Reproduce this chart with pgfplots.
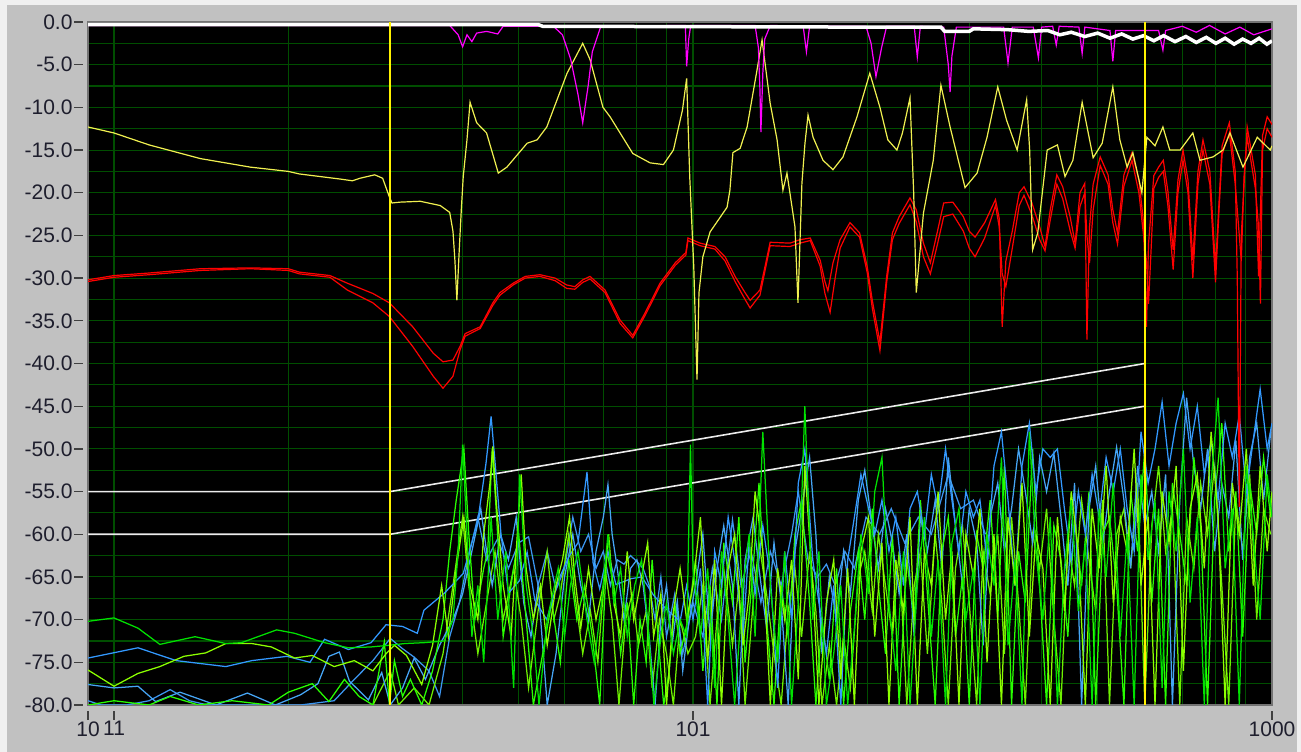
\documentclass[border=0pt]{standalone}
\usepackage{fontspec}
\setmainfont{Liberation Sans}
\usepackage{pgfplots}
\pgfplotsset{compat=1.18}
\definecolor{panel}{RGB}{193,193,193}
\definecolor{lightpanel}{RGB}{240,240,240}
\definecolor{gridgreen}{RGB}{0,78,0}
\definecolor{curveyellow}{RGB}{240,240,80}
\definecolor{magentaL}{RGB}{255,0,255}
\definecolor{redL}{RGB}{255,0,0}
\definecolor{blueA}{RGB}{51,153,255}
\definecolor{blueB}{RGB}{70,165,245}
\definecolor{blueC}{RGB}{60,150,240}
\definecolor{greenA}{RGB}{0,225,0}
\definecolor{greenB}{RGB}{40,255,0}
\definecolor{ygreenA}{RGB}{140,255,0}
\definecolor{ygreenB}{RGB}{110,240,0}
\definecolor{maskwhite}{RGB}{235,235,235}
\definecolor{labelcol}{RGB}{30,30,45}
\begin{document}
\begin{tikzpicture}[x=1pt,y=1pt]
\fill[lightpanel] (0,0) rectangle (1301,752);
\fill[panel] (7,0) rectangle (1297,747);
\begin{axis}[
  at={(88pt,47pt)}, anchor=south west,
  scale only axis, width=1184pt, height=683pt,
  xmode=log, xmin=9.017, xmax=1000, ymin=-80, ymax=0,
  axis background/.style={fill=black},
  axis line style={draw=black!55, line width=1.6pt},
  xtick={9.017,10,100,1000}, xticklabels={10,11,101,1000},
  minor xtick={20,30,40,50,60,70,80,90,200,300,400,500,700,800,900},
  ytick={-80,-75,-70,-65,-60,-55,-50,-45,-40,-35,-30,-25,-20,-15,-10,-5,0},
  yticklabels={-80.0,-75.0,-70.0,-65.0,-60.0,-55.0,-50.0,-45.0,-40.0,-35.0,-30.0,-25.0,-20.0,-15.0,-10.0,-5.0,0.0},
  minor ytick={-77.5,-72.5,-67.5,-62.5,-57.5,-52.5,-47.5,-42.5,-37.5,-32.5,-27.5,-22.5,-17.5,-12.5,-7.5,-2.5},
  grid=both,
  major grid style={draw=gridgreen, line width=1.1pt},
  minor grid style={draw=gridgreen, line width=1.1pt},
  minor tick length=0pt,
  major tick length=9pt,
  tick align=outside, tick pos=left,
  x tick style={draw=black!75, line width=1.3pt, yshift=-6pt},
  y tick style={draw=black!75, line width=1.3pt, xshift=-5pt},
  tick label style={font=\fontsize{21}{24}\selectfont, text=labelcol},
  yticklabel style={xshift=-3pt},
  xticklabel style={yshift=-4pt},
  log ticks with fixed point,
]
% limit masks
\addplot[maskwhite, line width=1.6pt] coordinates {(9.017,-55)(30,-55)(603,-40)};
\addplot[maskwhite, line width=1.6pt] coordinates {(9.017,-60)(30,-60)(603,-45)};

% noise traces
\addplot[blueC, line width=1.25pt] coordinates {(9.017,-79.5)(9.5,-80)(10.5,-80)(11.5,-79.5)(12.5,-78.2)(13.5,-79.5)(14.5,-80)(18,-80)(21,-80)(24,-79.5)(26,-77)(28,-74.8)(30,-72.2)(31.5,-73.4)(33,-74.4)(35,-76)(36.5,-79)(38,-72)(39.5,-68)(41,-62.5)(42.5,-58)(44,-63)(46,-60.5)(48,-64)(50,-61)(52,-60.3)(54,-66)(56,-62)(58,-66.5)(60,-64)(62,-58)(64,-62)(66,-60)(68,-64)(70,-62)(72,-66)(74,-63)(76,-63.5)(78,-62.5)(80,-63.2)(82,-64)(84,-66)(86,-70)(88,-65)(90,-72)(93,-67)(96,-74)(100,-68)(104,-72)(108,-64)(112,-70)(117,-58.3)(121,-66)(126,-62)(131,-68)(136,-62)(142,-66)(148,-60)(152,-55)(158,-63)(164,-65)(170,-63.5)(176,-66)(183,-62)(190,-64)(199,-58)(210,-60)(220,-57)(232,-61)(245,-58)(258,-60)(276,-53)(290,-57)(305,-56)(320,-60)};

\addplot[ygreenB, line width=1.25pt] coordinates {(28,-80)(30,-76)(31,-80)(33,-78)(35,-80)(37,-74)(38.5,-66)(40,-58)(41,-66)(42.5,-74)(44,-68)(45.5,-62)(47,-70)(49,-64)(50.5,-70)(52,-78)(54,-69)(56,-62)(57.5,-70)(59,-67)(61,-60)(62.5,-67)(64.5,-74)(66.5,-69)(68.5,-75)(70.5,-64)(72.5,-70)(74.5,-80)(76.5,-70)(78.5,-67)(80.5,-73)(83,-69)(85,-78)(87.5,-70)(90,-74)(92.5,-80)(95,-70)(98,-74)
(101,-72)(104,-66)(107,-80)(110,-70)(113,-64)(117,-73)(120,-66)(123,-80)(127,-68)(130,-61)(134,-67)(138,-74)(142,-80)(146,-69)(150,-64)(154,-72)(159,-62)(163,-69)(167,-80)(172,-73)(177,-80)(182,-72)(187,-78)(193,-65)(198,-62)(204,-69)(209,-60)(215,-66)(221,-72)(227,-62)(234,-80)(241,-66)(247,-62)(254,-74)(262,-60)(269,-68)(276,-80)(284,-64)(292,-59)(300,-68)(309,-80)(317,-62)(326,-67)(336,-60)(345,-74)(355,-58)(365,-68)(375,-80)(386,-60)(397,-64)(408,-57)(420,-70)(432,-80)(444,-61)(456,-66)(469,-56)(483,-63)(496,-69)(510,-56)(524,-80)(539,-60)(555,-57)(570,-64)(586,-54)(603,-80)(620,-59)(637,-52)(655,-62)(673,-57)(693,-80)(712,-58)(733,-64)(753,-54)(774,-60)(796,-52)(819,-66)(842,-80)(866,-56)(890,-62)(915,-53)(941,-70)(967,-57)(995,-60)};

\addplot[blueB, line width=1.25pt] coordinates {(9.017,-77.6)(10,-78.0)(11,-77.8)(11.8,-79.6)(13,-78.5)(15,-80)(17,-78.6)(19,-80)(21,-78.8)(22.5,-77.5)(23.5,-74.3)(24.5,-73.8)(25.5,-77.2)(27.5,-79.4)(29,-76.2)(30,-80)(31.5,-78)(33,-74.5)(34.5,-77)(36.5,-73)(38.5,-70)(40,-67)(41.5,-62)(43,-57)(44,-62)(45,-66)(46.5,-60)(48,-63)(49.5,-58)(51,-68)(52.5,-72)(54,-66)(56,-80)(58,-74)(60,-65)(62,-60)(64,-66)(66,-70)(68,-62)(70,-58)(71.3,-54.2)(72.5,-60)(74,-64)(76,-70)(78,-64)(80,-63)(82,-66)(84,-72)(86,-80)(88,-70)(90,-66)(92,-73)(94,-68)(96,-76)(98.5,-70)
(101,-66)(104,-60)(107,-72)(110,-64)(113,-59)(117,-66)(120,-80)(123,-63)(127,-58)(130,-64)(134,-71)(138,-61)(142,-68)(146,-80)(150,-62)(154,-57)(159,-51)(163,-60)(167,-74)(172,-65)(177,-70)(182,-62)(187,-67)(193,-56)(198,-52.5)(204,-59)(209,-64)(215,-57)(221,-61)(227,-67)(234,-60)(241,-72)(247,-58)(254,-62)(262,-56)(269,-64)(276,-51)(284,-59)(292,-66)(300,-57)(309,-61)(317,-73)(326,-58)(336,-54)(345,-62)(355,-57)(365,-50)(375,-55)(386,-61)(397,-51)(408,-55)(420,-50.5)(432,-58)(444,-66)(456,-54)(469,-80)(483,-57)(496,-52)(510,-61)(524,-55)(539,-49.8)(555,-56)(570,-64)(586,-52)(603,-59)(620,-55)(637,-62)(655,-53)(673,-80)(693,-56)(712,-44)(733,-52)(753,-57)(774,-50)(796,-62)(819,-54)(842,-58)(866,-49)(890,-63)(915,-51)(941,-47)(967,-56)(995,-48)};

\addplot[greenB, line width=1.25pt] coordinates {(9.017,-80)(10,-79.5)(11.5,-80)(12.5,-79)(14,-80)(16,-79.5)(18.5,-80)(20,-78.5)(22,-77.5)(23.5,-79.6)(25,-77)(26.5,-79)(28,-80)(29.3,-72.6)(29.9,-80)(30.5,-74.8)(31.5,-79)(32.5,-77)(34,-80)(35.5,-76)(37,-70)(38,-62)(39,-56)(40.2,-50)(41,-60)(42,-70)(43.5,-64)(44.2,-62)(45,-50)(45.8,-58)(47,-72)(48.5,-66)(50,-60)(51.5,-70)(53,-80)(55,-74)(57,-68)(59,-75)(61,-63)(63,-70)(65,-66)(67,-72)(69,-80)(71,-62)(73,-66)(75,-74)(77,-68)(79,-80)(81,-70)(83,-75)(85,-63)(87,-72)(89,-80)(91,-76)(93,-68)(95,-74)(98,-70)
(101,-63)(104,-76)(107,-66)(110,-80)(113,-61)(117,-68)(120,-58)(123,-75)(127,-64)(130,-54)(134,-70)(138,-80)(142,-66)(146,-72)(150,-60)(154,-56)(159,-68)(163,-80)(167,-70)(172,-77)(177,-64)(182,-80)(187,-69)(193,-62)(198,-70)(204,-57)(209,-66)(215,-74)(221,-60)(227,-80)(234,-63)(241,-70)(247,-56)(254,-67)(262,-80)(269,-62)(276,-58)(284,-72)(292,-65)(300,-80)(309,-60)(317,-64)(326,-56)(336,-70)(345,-52)(355,-80)(365,-62)(375,-68)(386,-50)(397,-66)(408,-80)(420,-59)(432,-63)(444,-72)(456,-58)(469,-66)(483,-55)(496,-80)(510,-60)(524,-58)(539,-66)(555,-80)(570,-55)(586,-62)(603,-50)(620,-68)(637,-57)(655,-80)(673,-54)(693,-60)(712,-66)(733,-51)(753,-59)(774,-80)(796,-56)(819,-47)(842,-62)(866,-55)(890,-72)(915,-54)(941,-60)(967,-51)(995,-58)};

\addplot[blueA, line width=1.25pt] coordinates {(9.017,-74.5)(11,-73.3)(12.8,-74.8)(15.6,-75.5)(17.3,-74.8)(19.9,-74.3)(21.8,-75)(23.1,-72.3)(25.4,-73.5)(27.8,-72.7)(29.5,-70.6)(31.5,-70.8)(33.4,-71.6)(34.3,-68.9)(37.2,-66.9)(40.1,-64.6)(42.5,-58.4)(43.9,-51.7)(44.8,-46.2)(45.5,-51.5)(46.6,-60)(48.0,-66.9)(50.2,-65.4)(51.7,-62.1)(53.3,-67.7)(55.9,-70)(58.5,-65.4)(61.2,-62.5)(63.3,-61)(65.6,-52.7)(67.2,-63.3)(69.0,-66.4)(71.3,-62)(73.6,-65.9)(78.2,-65.2)(81.6,-65)(85.6,-67.2)(89.7,-68.7)(95,-70.2)(97.5,-66)
(100,-70)(103,-64)(106,-80)(109,-62)(112,-66)(115,-58)(118,-63)(122,-72)(125,-61)(128,-67)(132,-59)(136,-65)(140,-78)(144,-62)(148,-70)(152,-54)(156,-50)(161,-63)(165,-68)(170,-74)(175,-66)(180,-80)(185,-63)(190,-58)(195,-53)(201,-57)(206,-60)(212,-56)(218,-62)(224,-58)(231,-66)(237,-57)(244,-55)(251,-60)(258,-53)(265,-57)(273,-50)(280,-56)(288,-62)(296,-55)(305,-58)(313,-56)(322,-63)(331,-52)(341,-48)(350,-56)(360,-66)(370,-52)(381,-47)(391,-55)(402,-50)(414,-51)(426,-50)(438,-57)(450,-63)(463,-55)(476,-60)(489,-53)(503,-58)(517,-51)(532,-55)(547,-50)(562,-57)(578,-62)(594,-48)(611,-54)(628,-50)(646,-44.5)(664,-52)(683,-47)(703,-43.5)(722,-50)(743,-45)(764,-53)(785,-49)(807,-56)(830,-47)(854,-51)(878,-46)(903,-55)(928,-49)(954,-43)(981,-50)(1000,-47)};

\addplot[ygreenA, line width=1.25pt] coordinates {(9.017,-75.9)(10,-77.8)(11,-76.3)(12,-75.5)(13.2,-74.3)(14.4,-73.9)(15.6,-72.8)(17.3,-72.8)(18.7,-73.2)(20.5,-74.5)(22,-74.2)(24,-75.5)(26,-74.8)(28,-76)(29.5,-74)(30.5,-73)(32,-74.2)(34,-77.6)(35.5,-73)(36.8,-66)(37.8,-72)(39,-64)(40.2,-58)(41.2,-66)(42.5,-70)(43.5,-60)(44.6,-54)(45.1,-49.7)(45.7,-56)(47,-66)(48.5,-72)(49.5,-62)(50.5,-53)(51.5,-64)(53,-70)(54.5,-66)(56,-73)(58,-66)(59.5,-63)(61.2,-58)(62.5,-65)(64,-71)(66,-64)(68,-70)(70,-66)(71.5,-60)(73,-68)(75,-72)(77,-62)(79,-70)(81,-66)(83.5,-61)(85.5,-72)(88,-67)(90,-80)(92.5,-69)(95,-64)(97.5,-70)
(100,-66)(103,-58)(106,-75)(109,-63)(112,-80)(115,-64)(118,-60)(122,-73)(125,-67)(128,-55)(132,-62)(136,-80)(140,-64)(144,-70)(148,-63)(152,-77)(156,-52)(161,-66)(165,-80)(170,-68)(175,-63)(180,-77)(185,-64)(190,-80)(195,-62)(201,-58)(206,-72)(212,-61)(218,-80)(224,-63)(231,-69)(237,-58)(244,-80)(251,-62)(258,-66)(265,-55)(273,-70)(280,-62)(288,-80)(296,-60)(305,-65)(313,-57)(322,-75)(331,-60)(341,-80)(350,-58)(360,-66)(370,-54)(381,-72)(391,-60)(402,-64)(414,-80)(426,-58)(438,-69)(450,-55)(463,-62)(476,-80)(489,-57)(503,-64)(517,-52)(532,-68)(547,-58)(562,-62)(578,-50)(594,-66)(611,-58)(628,-80)(646,-55)(664,-61)(683,-52)(703,-76)(722,-57)(743,-53)(764,-64)(785,-48)(807,-58)(830,-80)(854,-54)(878,-60)(903,-50)(928,-66)(954,-52)(981,-62)(1000,-55)};

\addplot[greenA, line width=1.25pt] coordinates {(9.017,-70.2)(10,-69.8)(11,-71.0)(12,-72.9)(13.8,-72.0)(15.6,-72.8)(16.6,-72.7)(19.1,-71.2)(20.5,-71.6)(23.1,-72.7)(25.4,-73.3)(27.8,-73.2)(29.9,-73.0)(31.8,-72.8)(34.3,-72.7)(37.2,-72.5)(38.5,-70)(39.3,-62)(40.0,-49.5)(40.7,-60)(41.5,-72)(42.5,-66)(43.5,-75)(44.8,-58)(46,-70)(47.5,-62)(49,-78)(50.2,-53)(51.5,-66)(53,-72)(54.2,-80)(56,-70)(58.5,-64)(60,-72)(61.4,-66)(63.3,-62)(65.6,-70)(67.5,-75)(69.5,-68)(71.3,-60)(73,-68)(75,-64)(77,-72)(79.3,-66)(81.5,-63)(83.5,-70)(85.6,-80)(88,-72)(90,-68)(92.5,-74)(95,-70)(97.5,-72)(99,-49.5)
(100,-64)(103,-72)(106,-64)(109,-78)(112,-62)(115,-70)(118,-80)(122,-66)(125,-60)(128,-72)(132,-48)(136,-66)(140,-75)(144,-62)(148,-80)(152,-68)(156,-45)(161,-70)(165,-62)(170,-80)(175,-74)(180,-66)(185,-80)(190,-71)(195,-60)(201,-67)(206,-55)(212,-51)(218,-68)(224,-76)(231,-62)(237,-80)(244,-66)(251,-58)(258,-72)(265,-63)(273,-80)(280,-61)(288,-57)(296,-70)(305,-64)(313,-80)(322,-60)(331,-66)(341,-51)(350,-73)(360,-63)(370,-80)(381,-48)(391,-62)(402,-70)(414,-58)(426,-80)(438,-64)(450,-56)(463,-69)(476,-61)(489,-80)(503,-57)(517,-65)(532,-54)(547,-72)(562,-60)(578,-80)(594,-53)(611,-63)(628,-56)(646,-78)(664,-55)(683,-62)(703,-50)(722,-68)(743,-58)(764,-80)(785,-54)(807,-44)(830,-64)(854,-57)(878,-80)(903,-52)(928,-60)(954,-70)(981,-53)(1000,-58)};

% red traces
\addplot[redL, line width=1.2pt] coordinates {(9.017,-30.2)(10,-29.7)(11.5,-29.4)(14.1,-28.9)(17.2,-28.8)(20,-28.9)(20.9,-29.3)(23.6,-29.7)(25.3,-30.6)(28.0,-31.8)(29.9,-32.9)(32.8,-35.7)(35.6,-38.8)(37.0,-39.8)(38.5,-39.6)(39.6,-38.0)(40.4,-36.5)(42.9,-35.7)(45.1,-32.9)(46.4,-31.7)(48.9,-30.6)(51.3,-29.8)(54.4,-29.6)(57.8,-30.0)(60.5,-30.8)(62.5,-31.0)(64.5,-30.2)(66.4,-29.8)(70.5,-31.4)(74.8,-34.9)(78.7,-36.7)(82.6,-34.1)(87.7,-30.6)(93.2,-28.2)(97.2,-27.0)(98,-25.3)(102.8,-25.9)(109.1,-26.3)(113.6,-27.5)(118.2,-29.8)(123,-31.7)(125.5,-32.6)(130.5,-31.4)(133.1,-28.7)(135.9,-25.8)(147,-25.9)(153,-25.5)(159.4,-25.3)(165.8,-27.9)(169,-30.4)(171,-31.5)(174.5,-28.2)(179.5,-25.5)(186.7,-23.5)(194,-24.7)(200,-28.7)(204,-32.6)(210.3,-37.5)(216,-29.8)(221,-24.7)(227,-22.8)(237,-20.6)(243,-22)(250,-25.9)(257,-28.2)(264,-24.7)(271,-21.2)(281,-21.1)(293,-22.8)(300,-24.5)(307,-25.2)(319,-23.5)(333,-20.8)(338,-23)(342,-35.7)(347,-28)(356,-24.5)(366,-20.0)(373,-19.3)(385,-21.2)(397,-24)(405.5,-26.3)(414,-22)(425,-17.9)(435,-19.3)(448,-22.8)(457,-25.9)(466,-20)(475,-18.9)(479,-37.2)(484,-24)(491,-19)(505,-15.8)(521,-17.9)(531,-22)(541,-24.7)(555,-17.9)(573,-15.3)(589,-18.5)(600,-23.5)(607,-35.7)(612,-26)(625,-18)(637,-17)(649,-16.2)(661,-19.8)(675,-26.7)(688,-18.5)(702,-15)(716,-18.5)(730,-27.9)(745,-17.5)(760,-13.8)(781,-17.5)(799,-28.7)(820,-14.5)(844,-11.8)(864,-17.5)(871,-30)(878,-56.8)(885,-25)(906,-12.3)(936,-17.9)(948,-29.8)(963,-13.3)(981,-11.1)(1000,-12)};
\addplot[redL, line width=1.2pt] coordinates {(9.017,-30.4)(10,-29.9)(11.5,-29.6)(14.1,-29.1)(17.2,-28.9)(20,-29.1)(20.9,-29.5)(23.6,-29.9)(25.3,-31.4)(28.0,-32.9)(29.9,-34.5)(32.8,-38.0)(35.6,-41.5)(37.0,-42.9)(38.5,-41.5)(39.6,-38.4)(40.4,-36.8)(42.9,-35.9)(45.1,-33.2)(46.4,-32)(48.9,-30.8)(51.3,-30.0)(54.4,-29.8)(57.8,-30.3)(60.5,-31.2)(62.5,-31.3)(64.5,-30.5)(66.4,-30.1)(70.5,-31.7)(74.8,-35.3)(78.7,-37.0)(82.6,-34.4)(87.7,-30.9)(93.2,-28.5)(97.2,-27.3)(98,-25.6)(102.8,-26.2)(109.1,-26.6)(113.6,-28.0)(118.2,-30.4)(123,-32.5)(125.5,-33.5)(130.5,-32)(133.1,-29.2)(135.9,-26.2)(147,-26.3)(153,-25.9)(159.4,-25.6)(165.8,-28.6)(169,-31.8)(172.5,-34)(176,-30)(179.5,-26.5)(186.7,-24.0)(194,-25.2)(200,-29.4)(204,-33.5)(210.3,-38.5)(216,-30.5)(221,-25.5)(227,-23.6)(237,-21.4)(243,-23.4)(250,-27.5)(257,-29.5)(264,-26.2)(271,-22.8)(281,-22.5)(293,-24.5)(300,-26.5)(307,-27.5)(319,-25.3)(333,-21.5)(338,-24)(342,-29.5)(347,-31)(356,-26.5)(366,-21.5)(373,-20.3)(385,-22.6)(397,-25.5)(405.5,-26.8)(414,-23.2)(425,-19)(435,-20.7)(448,-24.4)(457,-26.5)(466,-21.6)(475,-20)(479,-25)(484,-28.2)(491,-22)(505,-16.8)(521,-19)(531,-23.5)(541,-26)(555,-19.2)(573,-16.2)(589,-20)(600,-25)(607,-28)(612,-33)(618,-27)(625,-19.5)(637,-18.2)(649,-17.5)(661,-21.5)(675,-29)(688,-20)(702,-16.2)(716,-20)(730,-30)(745,-19)(760,-15)(781,-19)(799,-30.5)(810,-22)(820,-15.5)(844,-13)(864,-19)(871,-22)(885,-28)(895,-18)(906,-13.5)(936,-19.5)(948,-24)(955,-33)(963,-15)(981,-12.5)(1000,-13.5)};

% yellow trace
\addplot[curveyellow, line width=1.2pt] coordinates {(9.017,-12.3)(10,-13.0)(11.5,-14.4)(14.1,-16.0)(17.2,-17.0)(20,-17.5)(20.9,-17.8)(24.6,-18.4)(25.8,-18.6)(26.6,-18.3)(28.2,-17.9)(29.1,-18.3)(29.9,-20.5)(30.2,-21.2)(31.2,-21.1)(33.8,-21.0)(36.6,-21.5)(38.0,-22.3)(38.5,-24.5)(38.8,-27.9)(39.1,-32.6)(39.5,-26.3)(39.8,-22)(40.1,-18.1)(40.7,-13.8)(41.2,-9.4)(42.3,-11.8)(44.0,-13)(46.1,-17.7)(47.7,-17)(51.7,-14.2)(53.8,-13.8)(55.9,-12.3)(60.6,-6)(64.5,-2.5)(66.4,-4.4)(69.9,-10)(71.9,-11.1)(78.7,-15.4)(84.3,-16.5)(88.9,-16.7)(92.5,-15)(95.9,-10.3)(97.5,-6.6)(98.7,-18.1)(100.3,-28.7)(101.6,-41.9)(102.4,-31.7)(104.0,-27.5)(107.0,-24.6)(114.5,-21.7)(115.8,-19.7)(117.2,-15.3)(120.6,-14.8)(124.0,-12.3)(129.0,-5.6)(131.6,-2.1)(135.9,-9.5)(139.7,-13.8)(143,-19.7)(145.3,-17.7)(147.0,-20)(150.0,-24)(151.8,-32.9)(154.2,-18.9)(156.1,-14.2)(158.0,-10.9)(161.2,-13.5)(167.7,-16.2)(174.5,-17.3)(181.6,-15.8)(192,-11.1)(202,-6.0)(210.3,-10)(217,-13.8)(225,-15)(230,-13)(237,-8.9)(240.5,-20)(243,-31.7)(250,-22.4)(260,-16.2)(268,-7.4)(278,-12.3)(295,-19.4)(309.5,-17.7)(322,-13.5)(336,-7.6)(348,-11.5)(363,-15)(377,-9.1)(381.5,-15)(386,-26.7)(394,-24.7)(409,-15)(426,-14.4)(439,-18.1)(453,-16.2)(470,-9.4)(491,-15.9)(509,-14.2)(531,-7.6)(546,-13.8)(562,-17)(575,-15.3)(596,-20)(608,-13.5)(628,-14.5)(648,-12.3)(666,-15)(694,-15)(730,-13)(751,-16.2)(791,-15.8)(823,-15)(846,-13)(891,-17)(943,-13.5)(993,-15)(1000,-14.5)};

% magenta trace
\addplot[magentaL, line width=1.2pt] coordinates {(9.017,-0.4)(38,-0.4)(39.3,-1.5)(40,-2.9)(40.7,-1.5)(41.5,-2.3)(42.3,-1.3)(44,-1.1)(46,-1.4)(47,-0.5)(57.4,-0.5)(59.5,-1.5)(61.5,-4.4)(63.3,-8.5)(64.5,-11.8)(65.4,-9)(65.9,-7.5)(67,-3.5)(69.3,-0.5)(97,-0.4)(97.5,-5.2)(98.3,-2)(99.1,-0.4)(128,-0.4)(129.7,-3)(130.5,-8)(131,-12.9)(132,-6)(133,-2)(136,-0.4)(155,-0.5)(157,-3.5)(159,-0.5)(199,-0.5)(203,-2.5)(207,-6.4)(211.7,-3)(216,-0.5)(241,-0.5)(244,-4.1)(247,-0.5)(271,-0.6)(276,-5)(278,-8.2)(280,-4)(285,-0.6)(344,-0.6)(350,-4.8)(356,-0.6)(387,-0.6)(395,-4.2)(400,-0.6)(418,-0.5)(424,-2.7)(429,-0.5)(464,-0.6)(470,-3.7)(475,-0.6)(525,-1)(531,-4.6)(537,-1)(637,-1)(648,-3.3)(655,-1)(700,-0.5)(740,-1.2)(780,-0.4)(830,-1.4)(880,-0.6)(930,-1.5)(1000,-0.8)};

% white top trace
\addplot[white, line width=3.5pt] coordinates {(9.017,-0.3)(54,-0.3)(55,-0.5)(205,-0.6)(268,-0.6)(272,-1.1)(300,-1.1)(305,-0.8)(350,-0.9)(380,-1.1)(410,-1.0)(430,-1.5)(450,-1.2)(475,-1.7)(500,-1.3)(525,-1.9)(550,-1.4)(575,-2.0)(600,-1.6)(625,-2.2)(650,-1.6)(680,-2.3)(710,-1.7)(740,-2.4)(770,-1.8)(800,-2.5)(830,-1.9)(860,-2.6)(890,-2.0)(920,-2.5)(950,-1.9)(980,-2.6)(1000,-2.2)};

% cursors
\addplot[draw=yellow, line width=2pt] coordinates {(30,0)(30,-80)};
\addplot[draw=yellow, line width=2pt] coordinates {(603,0)(603,-80)};
\end{axis}
\end{tikzpicture}
\end{document}
